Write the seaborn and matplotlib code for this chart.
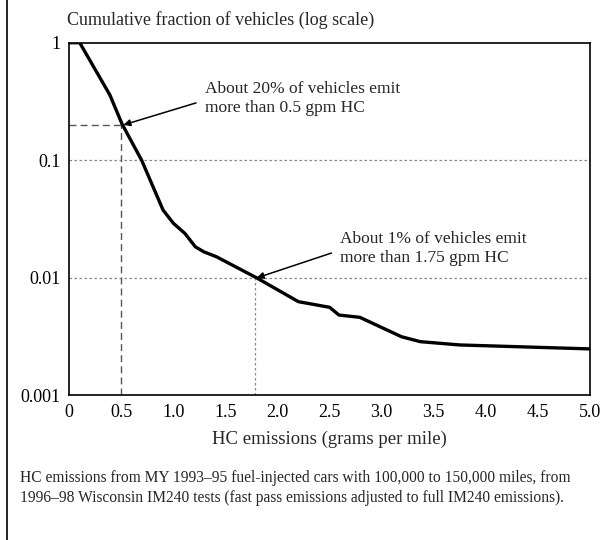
import matplotlib
matplotlib.use("Agg")
import matplotlib.pyplot as plt
import seaborn as sns
import pandas as pd
from matplotlib.lines import Line2D

# Data
hc_gpm = [0.0, 0.10, 0.39, 0.506, 0.695, 0.90, 1.00, 1.11, 1.21, 1.29, 1.415,
          1.80, 2.20, 2.50, 2.59, 2.79, 3.19, 3.37, 3.75, 5.0]
cum_frac = [1.0, 1.0, 0.359, 0.204, 0.1, 0.0378, 0.0291, 0.0239, 0.0184, 0.0167,
            0.0151, 0.01, 0.00628, 0.00562, 0.00483, 0.00462, 0.00316, 0.00287,
            0.00269, 0.00249]
x_ticks = [0, 0.5, 1.0, 1.5, 2.0, 2.5, 3.0, 3.5, 4.0, 4.5, 5.0]
x_tick_labels = ["0", "0.5", "1.0", "1.5", "2.0", "2.5", "3.0", "3.5", "4.0", "4.5", "5.0"]
y_ticks = [0.001, 0.01, 0.1, 1]
y_tick_labels = ["0.001", "0.01", "0.1", "1"]
ref_x = [0.5, 1.78]
ref_y = [0.2, 0.01]
notes = ["About 20% of vehicles emit\nmore than 0.5 gpm HC",
         "About 1% of vehicles emit\nmore than 1.75 gpm HC"]
note_xy = [(1.3, 0.335), (2.6, 0.0178)]

sns.set_style("white")
plt.rcParams['font.family'] = ['Liberation Serif', 'DejaVu Serif']

fig = plt.figure(figsize=(6, 5.4), dpi=100)
ax = fig.add_axes([0.1155, 0.2676, 0.8678, 0.6533])

df = pd.DataFrame({"hc": hc_gpm, "frac": cum_frac})
ax.set_yscale("log")
ax.set_xlim(0, 5.0)
ax.set_ylim(0.001, 1)

# grid lines
for yv in [0.1, 0.01]:
    ax.axhline(yv, color="#888888", lw=0.9, ls=(0, (2, 2)), zorder=1)

# reference lines
ax.plot([0, ref_x[0]], [ref_y[0], ref_y[0]], color="#555555", lw=1.0, ls=(0, (5, 3)), zorder=2)
ax.plot([ref_x[0], ref_x[0]], [0.001, ref_y[0]], color="#555555", lw=1.0, ls=(0, (5, 3)), zorder=2)
ax.plot([ref_x[1], ref_x[1]], [0.001, ref_y[1]], color="#888888", lw=0.9, ls=(0, (2, 2)), zorder=2)

sns.lineplot(data=df, x="hc", y="frac", ax=ax, color="black", lw=2.4, zorder=3)

ax.set_xticks(x_ticks)
ax.set_xticklabels(x_tick_labels, fontsize=13)
ax.set_yticks(y_ticks)
ax.set_yticklabels(y_tick_labels, fontsize=13)
ax.minorticks_off()
ax.tick_params(axis="both", length=0, pad=6, colors="black")
ax.set_xlabel("HC emissions (grams per mile)", fontsize=13.5, labelpad=7)
ax.set_ylabel("")
for s in ax.spines.values():
    s.set_color("black")
    s.set_linewidth(1.2)

for (rx, ry), txt, (tx, ty) in zip(zip(ref_x, ref_y), notes, note_xy):
    ax.annotate(txt, xy=(rx + 0.02, ry), xytext=(tx, ty), fontsize=12.5,
                va="center", ha="left", linespacing=1.2,
                arrowprops=dict(arrowstyle="-|>", color="black", lw=1.1,
                                mutation_scale=10, shrinkA=4, shrinkB=0,
                                relpos=(0, 0.45)))

fig.text(67 / 600, 1 - 20 / 540, "Cumulative fraction of vehicles (log scale)",
         fontsize=13, ha="left", va="center")
fig.text(20 / 600, 1 - 488 / 540,
         "HC emissions from MY 1993\u201395 fuel-injected cars with 100,000 to 150,000 miles, from\n"
         "1996\u201398 Wisconsin IM240 tests (fast pass emissions adjusted to full IM240 emissions).",
         fontsize=11.2, ha="left", va="center", linespacing=1.3)

fig.add_artist(Line2D([6.5 / 600, 6.5 / 600], [0, 1], transform=fig.transFigure,
                      color="black", lw=1.2))

fig.savefig("out.png", dpi=100)
